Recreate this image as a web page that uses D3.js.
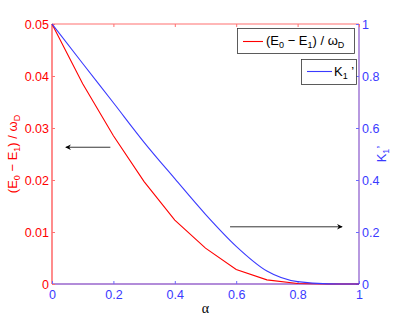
<html>
<head>
<meta charset="UTF-8">
<script src="https://d3js.org/d3.v7.min.js"></script>
<style>
  body { margin: 0; background: #fff; }
  text { font-family: "Liberation Sans", Arial, sans-serif; }
</style>
</head>
<body>
<div id="chart"></div>
<script>
// data
const alpha = [0, 0.1, 0.2, 0.3, 0.4, 0.5, 0.6, 0.7, 0.8, 0.9, 1.0];
const energyGap = [0.05, 0.0385, 0.0285, 0.0197, 0.0123, 0.0069, 0.0028, 0.0008, 0.0001, 0, 0];
const kPrime = [1, 0.848, 0.697, 0.545, 0.405, 0.268, 0.145, 0.05, 0.009, 0.0005, 0];
const xTicks = [0, 0.2, 0.4, 0.6, 0.8, 1];
const leftTicks = [0, 0.01, 0.02, 0.03, 0.04, 0.05];
const rightTicks = [0, 0.2, 0.4, 0.6, 0.8, 1];

const W = 399, H = 319;
const margin = { top: 24, right: 40, bottom: 35, left: 52 };
const red = "#ff0000", blue = "#3a3aff";

const svg = d3.select("#chart").append("svg")
  .attr("width", W).attr("height", H);

const x = d3.scaleLinear().domain([0, 1]).range([margin.left, W - margin.right]);
const yL = d3.scaleLinear().domain([0, 0.05]).range([H - margin.bottom, margin.top]);
const yR = d3.scaleLinear().domain([0, 1]).range([H - margin.bottom, margin.top]);

const defs = svg.append("defs");
defs.append("marker").attr("id", "head")
  .attr("viewBox", "0 0 10 10").attr("refX", 9).attr("refY", 5)
  .attr("markerWidth", 9).attr("markerHeight", 7).attr("orient", "auto")
  .append("path").attr("d", "M0,0 L10,5 L0,10 L3,5 Z").attr("fill", "#000");

// frame: red axes on top/left, blue axes on bottom/right
const x0 = x(0), x1 = x(1), yb = yL(0), yt = yL(0.05);
svg.append("line").attr("x1", x0).attr("x2", x1).attr("y1", yt).attr("y2", yt)
  .attr("stroke", "#ff7070").attr("stroke-width", 1.2);
svg.append("line").attr("x1", x0).attr("x2", x0).attr("y1", yt).attr("y2", yb)
  .attr("stroke", "#ff7070").attr("stroke-width", 1.6);
svg.append("line").attr("x1", x0).attr("x2", x1).attr("y1", yb).attr("y2", yb)
  .attr("stroke", "#9966cc").attr("stroke-width", 1.6);
svg.append("line").attr("x1", x1).attr("x2", x1).attr("y1", yt).attr("y2", yb)
  .attr("stroke", "#8855cc").attr("stroke-width", 1.2);

// axes
const gx = svg.append("g").attr("transform", `translate(0,${yb})`)
  .call(d3.axisBottom(x).tickValues(xTicks).tickSize(-3).tickPadding(6)
    .tickFormat(d => d3.format("")(d)));
gx.select(".domain").remove();
gx.selectAll("line").attr("stroke", "#6a6aff");
gx.selectAll("text").attr("fill", blue).attr("font-size", 12.5);

const gxt = svg.append("g").attr("transform", `translate(0,${yt})`)
  .call(d3.axisTop(x).tickValues(xTicks).tickSize(-3).tickFormat(""));
gxt.select(".domain").remove();
gxt.selectAll("line").attr("stroke", "#ff7070");

const gl = svg.append("g").attr("transform", `translate(${x0},0)`)
  .call(d3.axisLeft(yL).tickValues(leftTicks).tickSize(-3).tickPadding(3)
    .tickFormat(d => d3.format("")(d)));
gl.select(".domain").remove();
gl.selectAll("line").attr("stroke", "#ff7070");
gl.selectAll("text").attr("fill", red).attr("font-size", 12.5);

const gr = svg.append("g").attr("transform", `translate(${x1},0)`)
  .call(d3.axisRight(yR).tickValues(rightTicks).tickSize(-3).tickPadding(3)
    .tickFormat(d => d3.format("")(d)));
gr.select(".domain").remove();
gr.selectAll("line").attr("stroke", "#6a6aff");
gr.selectAll("text").attr("fill", blue).attr("font-size", 12.5);

// series
svg.append("path").datum(alpha)
  .attr("fill", "none").attr("stroke", red).attr("stroke-width", 1.1)
  .attr("d", d3.line().x(d => x(d)).y((d, i) => yL(energyGap[i])));
svg.append("path").datum(alpha)
  .attr("fill", "none").attr("stroke", blue).attr("stroke-width", 1.1)
  .attr("d", d3.line().curve(d3.curveMonotoneX).x(d => x(d)).y((d, i) => yR(kPrime[i])));

// arrows
svg.append("line").attr("x1", x(0.19)).attr("x2", x(0.045))
  .attr("y1", yL(0.0263)).attr("y2", yL(0.0263))
  .attr("stroke", "#000").attr("stroke-width", 0.8).attr("marker-end", "url(#head)");
svg.append("line").attr("x1", x(0.58)).attr("x2", x(0.945))
  .attr("y1", yR(0.22)).attr("y2", yR(0.22))
  .attr("stroke", "#000").attr("stroke-width", 0.8).attr("marker-end", "url(#head)");

// axis labels
const lab = svg.append("text").attr("fill", red).attr("font-size", 13)
  .attr("text-anchor", "middle")
  .attr("transform", `translate(17,${(yt + yb) / 2}) rotate(-90)`);
lab.append("tspan").text("(E");
lab.append("tspan").attr("font-size", 9).attr("dy", 3).text("0");
lab.append("tspan").attr("dy", -3).text(" \u2212 E");
lab.append("tspan").attr("font-size", 9).attr("dy", 3).text("1");
lab.append("tspan").attr("dy", -3).text(") / \u03c9");
lab.append("tspan").attr("font-size", 9).attr("dy", 3).text("D");

const labR = svg.append("text").attr("fill", blue).attr("font-size", 13)
  .attr("text-anchor", "middle")
  .attr("transform", `translate(386,${(yt + yb) / 2}) rotate(-90)`);
labR.append("tspan").text("K");
labR.append("tspan").attr("font-size", 9).attr("dy", 3).text("1");
labR.append("tspan").attr("dy", -3).text("\u2019");

svg.append("text").attr("x", (x0 + x1) / 2).attr("y", 313)
  .attr("text-anchor", "middle").attr("font-size", 14)
  .style("font-family", "'Liberation Serif', 'DejaVu Serif', serif")
  .text("\u03b1");

// legends
const lg1 = svg.append("g");
lg1.append("rect").attr("x", 237.5).attr("y", 28.5).attr("width", 117).attr("height", 25)
  .attr("fill", "#fff").attr("stroke", "#333").attr("stroke-width", 0.8);
lg1.append("line").attr("x1", 243).attr("x2", 263).attr("y1", 41.5).attr("y2", 41.5)
  .attr("stroke", red).attr("stroke-width", 1.1);
const t1 = lg1.append("text").attr("x", 266).attr("y", 45).attr("font-size", 13).attr("fill", "#000");
t1.append("tspan").text("(E");
t1.append("tspan").attr("font-size", 9).attr("dy", 3).text("0");
t1.append("tspan").attr("dy", -3).text(" \u2212 E");
t1.append("tspan").attr("font-size", 9).attr("dy", 3).text("1");
t1.append("tspan").attr("dy", -3).text(") / \u03c9");
t1.append("tspan").attr("font-size", 9).attr("dy", 3).text("D");

const lg2 = svg.append("g");
lg2.append("rect").attr("x", 301.5).attr("y", 59.5).attr("width", 55).attr("height", 25)
  .attr("fill", "#fff").attr("stroke", "#333").attr("stroke-width", 0.8);
lg2.append("line").attr("x1", 307).attr("x2", 332).attr("y1", 71.5).attr("y2", 71.5)
  .attr("stroke", blue).attr("stroke-width", 1.1);
const t2 = lg2.append("text").attr("x", 334).attr("y", 76).attr("font-size", 13).attr("fill", "#000");
t2.append("tspan").text("K");
t2.append("tspan").attr("font-size", 9).attr("dy", 3).text("1");
t2.append("tspan").attr("dy", -3).text(" \u2019");
</script>
</body>
</html>
